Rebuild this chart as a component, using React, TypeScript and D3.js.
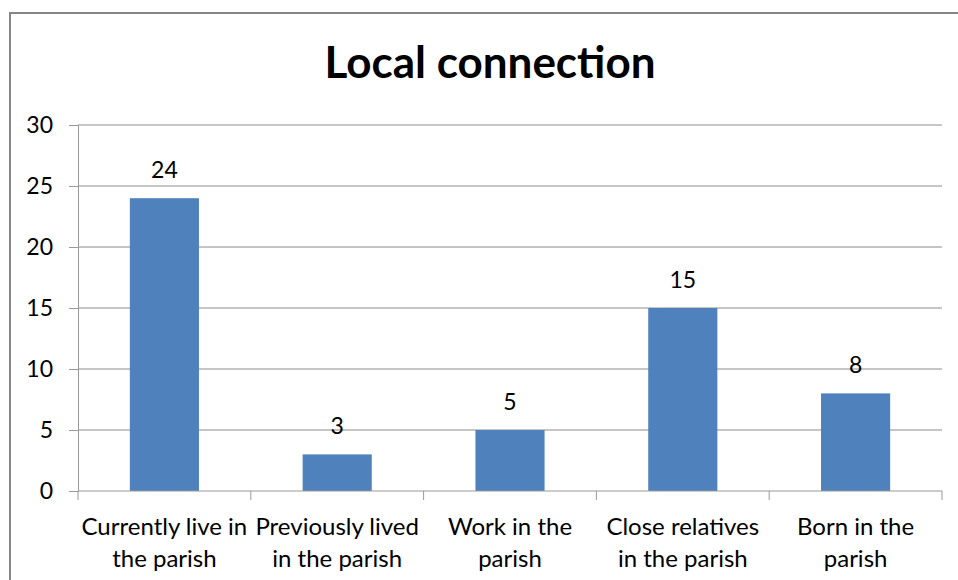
import React, { useEffect, useRef } from 'react';
import * as d3 from 'd3';

const categories = [
  ["Currently live in", "the parish"],
  ["Previously lived", "in the parish"],
  ["Work in the", "parish"],
  ["Close relatives", "in the parish"],
  ["Born in the", "parish"],
];
const values = [24, 3, 5, 15, 8];
const yTicks = [0, 5, 10, 15, 20, 25, 30];

const FONT = "Lato, 'Noto Sans', sans-serif";
const AXIS = "#999999";

export default function App() {
  const svgRef = useRef<SVGSVGElement>(null);

  useEffect(() => {
    if (!svgRef.current) return;
    const left = 78, right = 942, top = 125, bottom = 491;

    const svg = d3.select(svgRef.current);
    svg.selectAll('*').remove();

    // chart frame (runs past the right/bottom edges)
    svg.append("rect")
      .attr("x", 10).attr("y", 13)
      .attr("width", 1200).attr("height", 1200)
      .attr("fill", "#fff")
      .attr("stroke", "#868686")
      .attr("stroke-width", 2);

    svg.append("text")
      .attr("x", 490).attr("y", 78)
      .attr("text-anchor", "middle")
      .style("font-family", FONT)
      .style("font-size", "44px")
      .style("font-weight", "bold")
      .attr("fill", "#000")
      .text("Local connection");

    const x = d3.scaleBand<number>()
      .domain(d3.range(values.length))
      .range([left, right])
      .paddingInner(0.6)
      .paddingOuter(0.3);
    const step = (right - left) / values.length;

    const y = d3.scaleLinear().domain([0, 30]).range([bottom, top]);

    // gridlines
    svg.append("g")
      .selectAll("line")
      .data(yTicks.filter(t => t > 0))
      .join("line")
      .attr("x1", left).attr("x2", right)
      .attr("y1", d => y(d)).attr("y2", d => y(d))
      .attr("stroke", "#8c8c8c")
      .attr("stroke-width", 1);

    // y axis
    const yAxis = svg.append("g")
      .attr("transform", `translate(${left},0)`)
      .call(d3.axisLeft(y).tickValues(yTicks).tickSize(9).tickPadding(16));
    yAxis.select(".domain").attr("stroke", AXIS);
    yAxis.selectAll(".tick line").attr("stroke", AXIS);
    yAxis.selectAll(".tick text")
      .style("font-family", FONT)
      .style("font-size", "23px")
      .attr("fill", "#000");

    // bars
    svg.append("g")
      .selectAll("rect")
      .data(values)
      .join("rect")
      .attr("x", (_, i) => x(i)!)
      .attr("y", d => y(d))
      .attr("width", x.bandwidth())
      .attr("height", d => y(0) - y(d))
      .attr("fill", "#4F81BD");

    // x axis line and ticks
    const xg = svg.append("g");
    xg.append("line")
      .attr("x1", left).attr("x2", right)
      .attr("y1", bottom).attr("y2", bottom)
      .attr("stroke", AXIS);
    xg.selectAll("line.tk")
      .data(d3.range(values.length + 1))
      .join("line")
      .attr("class", "tk")
      .attr("x1", d => left + d * step).attr("x2", d => left + d * step)
      .attr("y1", bottom).attr("y2", bottom + 9)
      .attr("stroke", AXIS);

    // category labels
    categories.forEach((lines, i) => {
      const cx = x(i)! + x.bandwidth() / 2;
      const t = svg.append("text")
        .attr("text-anchor", "middle")
        .style("font-family", FONT)
        .style("font-size", "24px")
        .attr("fill", "#000");
      lines.forEach((ln, j) => {
        t.append("tspan").attr("x", cx).attr("y", 535 + j * 32).text(ln);
      });
    });

    // value labels
    svg.append("g")
      .selectAll("text")
      .data(values)
      .join("text")
      .attr("x", (_, i) => x(i)! + x.bandwidth() / 2)
      .attr("y", d => y(d) - 20)
      .attr("text-anchor", "middle")
      .style("font-family", FONT)
      .style("font-size", "23px")
      .attr("fill", "#000")
      .text(d => d);
  }, []);

  return (
    <svg
      ref={svgRef}
      width={958}
      height={580}
      viewBox="0 0 958 580"
      style={{ position: 'absolute', left: 0, top: 0, display: 'block' }}
    />
  );
}
